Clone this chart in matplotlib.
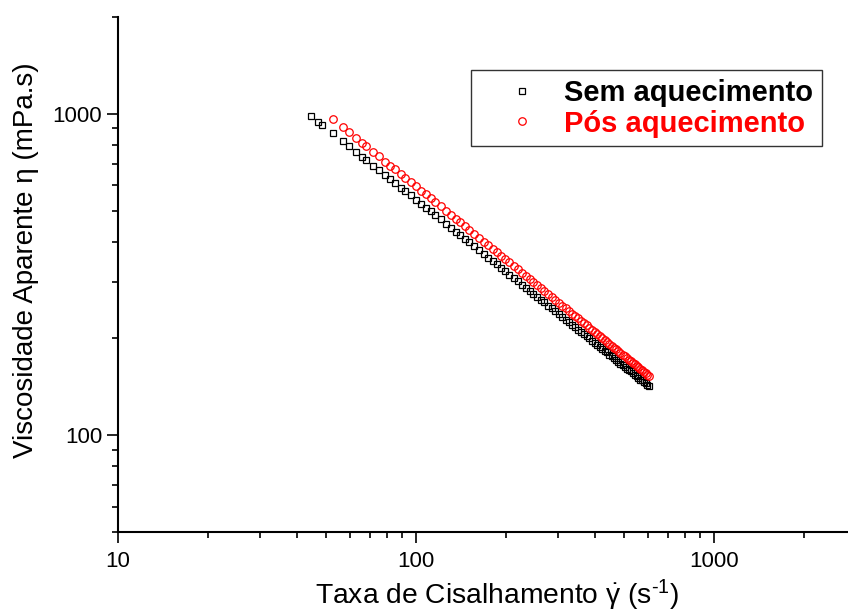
import matplotlib
matplotlib.use('Agg')
import matplotlib.pyplot as plt
from matplotlib.ticker import LogLocator, NullFormatter, FixedLocator, FixedFormatter

plt.rcParams['font.family'] = ['Liberation Sans', 'DejaVu Sans']
plt.rcParams['mathtext.fontset'] = 'custom'
plt.rcParams['mathtext.rm'] = 'Liberation Sans'
plt.rcParams['mathtext.it'] = 'Liberation Sans'
plt.rcParams['mathtext.bf'] = 'Liberation Sans:bold'

# shear rate (1/s) and apparent viscosity (mPa.s)
shear_sem = [44.5, 47, 48.5, 52.5, 57, 59.5, 63, 66, 68, 72, 75, 79, 82, 85, 89, 92, 96,
             100, 104, 108, 112, 116, 121, 126, 131, 136, 141, 146, 151, 157, 163, 169,
             175, 181, 187, 193, 199, 206, 213, 220, 227, 234, 241, 248, 255, 262, 270,
             278, 286, 294, 302, 310, 318, 326, 334, 342, 350, 358, 366, 374, 382, 390,
             398, 406, 414, 422, 430, 438, 446, 454, 462, 470, 478, 486, 494, 502, 510,
             518, 526, 534, 542, 550, 558, 566, 574, 582, 590, 598, 606]
visc_sem = [985, 946, 924, 871, 820, 794, 761, 735, 719, 689, 669, 643, 626, 609, 589, 575, 557,
            540, 525, 510, 497, 484, 469, 455, 442, 430, 419, 408, 398, 387, 376, 366,
            357, 348, 340, 332, 324, 316, 308, 301, 294, 287, 281, 275, 270, 264, 259,
            253, 248, 243, 238, 233, 229, 225, 221, 217, 213, 210, 206, 203, 200, 197,
            194, 191, 188, 186, 183, 181, 178, 176, 174, 171, 169, 167, 165, 163, 161,
            159, 158, 156, 154, 152.5, 151, 149, 148, 146, 145, 143, 142]

shear_pos = [52.5, 57, 59.5, 63, 66, 68, 72, 75, 79, 82, 85, 89, 92, 96,
             100, 104, 108, 112, 116, 121, 126, 131, 136, 141, 146, 151, 157, 163, 169,
             175, 181, 187, 193, 199, 206, 213, 220, 227, 234, 241, 248, 255, 262, 270,
             278, 286, 294, 302, 310, 318, 326, 334, 342, 350, 358, 366, 374, 382, 390,
             398, 406, 414, 422, 430, 438, 446, 454, 462, 470, 478, 486, 494, 502, 510,
             518, 526, 534, 542, 550, 558, 566, 574, 582, 590, 598, 606]
visc_pos = [966, 908, 879, 842, 813, 795, 761, 738, 710, 690, 672, 649, 633, 613,
            594, 577, 561, 546, 531, 515, 499, 485, 471, 459, 447, 435, 423, 411, 400,
            390, 380, 371, 362, 354, 345, 336, 328, 320, 313, 306, 300, 293, 287, 281,
            275, 269, 264, 258, 253, 248, 244, 239, 235, 231, 227, 223, 220, 216, 213,
            210, 207, 203, 201, 198, 195, 192, 190, 187, 185, 183, 180, 178, 176, 174,
            172, 170, 168, 166, 164, 162.5, 161, 159, 157.5, 156, 154, 153]

x_ticks = [10, 100, 1000]
x_labels = ['10', '100', '1000']
y_ticks = [100, 1000]
y_labels = ['100', '1000']

fig = plt.figure(figsize=(8.48, 6.12), dpi=100)
ax = fig.add_axes([118/848, 1 - 532/612, 1 - 118/848, 515/612])

ax.plot(shear_sem, visc_sem, ls='none', marker='s', ms=5, mfc='none', mec='black',
        mew=0.9, label='Sem aquecimento')
ax.plot(shear_pos, visc_pos, ls='none', marker='o', ms=5.4, mfc='none', mec='red',
        mew=0.9, label='Pós aquecimento')

ax.set_xscale('log')
ax.set_yscale('log')
ax.set_xlim(10, 2820)
ax.set_ylim(50, 2000)

ax.xaxis.set_major_locator(FixedLocator(x_ticks))
ax.xaxis.set_major_formatter(FixedFormatter(x_labels))
ax.yaxis.set_major_locator(FixedLocator(y_ticks))
ax.yaxis.set_major_formatter(FixedFormatter(y_labels))
ax.xaxis.set_minor_locator(LogLocator(base=10, subs=range(2, 10)))
ax.yaxis.set_minor_locator(LogLocator(base=10, subs=range(2, 10)))
ax.xaxis.set_minor_formatter(NullFormatter())
ax.yaxis.set_minor_formatter(NullFormatter())

for s in ['top', 'right']:
    ax.spines[s].set_visible(False)
for s in ['left', 'bottom']:
    ax.spines[s].set_linewidth(1.5)

ax.tick_params(which='major', direction='out', length=8, width=1.2, labelsize=16)
ax.tick_params(which='minor', direction='out', length=4.5, width=1.2)
ax.tick_params(axis='y', which='major', pad=3.5)
ax.tick_params(axis='x', which='major', pad=6)

fig.text(497/848, 1 - 595/612, r'Taxa de Cisalhamento $\dot{\gamma}$ (s$^{\mathregular{‐1}}$)',
         ha='center', va='center', fontsize=20.3)
fig.text(26/848, 1 - 260/612, 'Viscosidade Aparente η (mPa.s)', rotation=90,
         ha='center', va='center', fontsize=20)

leg = ax.legend(loc='upper right', bbox_to_anchor=(822/848, 1 - 70/612),
                bbox_transform=fig.transFigure, borderaxespad=0, frameon=True,
                fancybox=False, edgecolor='black', borderpad=0.3, handlelength=2.9,
                handletextpad=0.0, labelspacing=0.1, markerscale=1.0,
                prop={'weight': 'bold', 'size': 21})
leg.get_frame().set_linewidth(1.0)
leg.get_texts()[0].set_color('black')
leg.get_texts()[1].set_color('red')

fig.savefig('out.png', dpi=100)
